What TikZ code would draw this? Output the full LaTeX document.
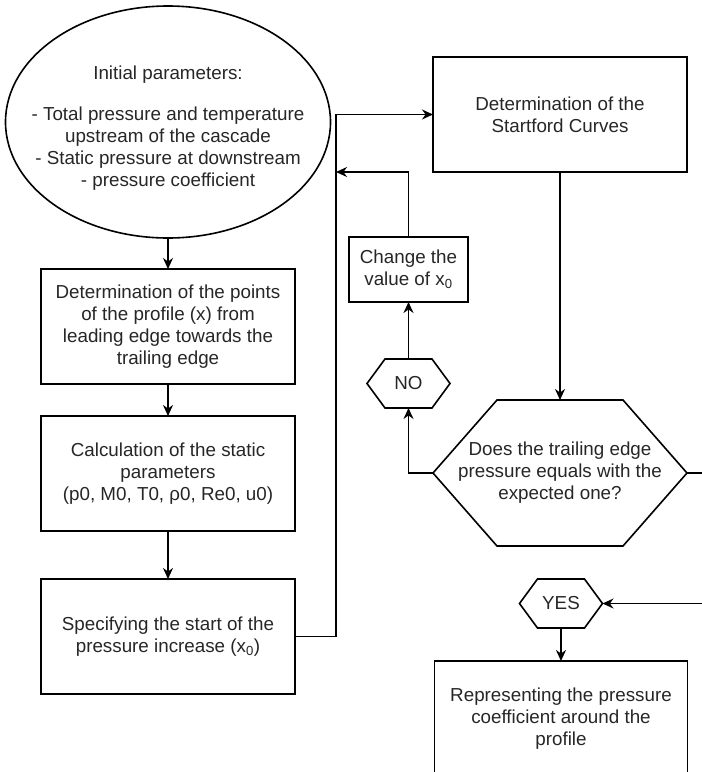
\documentclass[tikz,border=0pt]{standalone}
\usepackage{fontspec}
\setmainfont{Liberation Sans}
\usepackage{tikz}
\usetikzlibrary{shapes.geometric}
\usetikzlibrary{arrows.meta}

\tikzset{
  process/.style={draw, line width=1.6pt, rectangle, minimum width=254pt, minimum height=115pt, align=center, inner sep=0pt, outer sep=0pt},
  terminal/.style={draw, line width=1.6pt, ellipse, minimum width=325pt, minimum height=232pt, inner sep=0pt, outer sep=0pt},
  hexnode/.style={rectangle, align=center, inner sep=0pt, outer sep=0pt},
  flow/.style={line width=1.6pt, -{Stealth[length=11pt,width=10pt]}},
  link/.style={line width=1.6pt}
}

\begin{document}
\begin{tikzpicture}[x=1pt,y=-1pt,font=\fontsize{18.8}{22}\selectfont, text=black!85]
\useasboundingbox (0,0) rectangle (702,772);
\clip (0,0) rectangle (702,772);

\node[terminal] (init) at (168,122) {};
\node[align=center] (inittext) at (168,128) {Initial parameters:\\[19pt]
  - Total pressure and temperature\\ upstream of the cascade\\
  - Static pressure at downstream\\ - pressure coefficient};
\node[process] (points) at (168,326.5) {Determination of the points\\
  of the profile (x) from\\ leading edge towards the\\ trailing edge};
\node[process] (static) at (168,473.5) {Calculation of the static\\
  parameters\\ (p0, M0, T0, ρ0, Re0, u0)};
\node[process] (start) at (168,636.5) {Specifying the start of the\\
  pressure increase (x\textsubscript{0})};

\node[process] (curves) at (560,114.5) {Determination of the\\ Startford Curves};
\node[process, minimum width=119pt, minimum height=65pt] (change) at (408.5,269.5)
  {Change the\\ value of x\textsubscript{0}};

% decision and answers
\node[hexnode, minimum width=254pt, minimum height=146pt] (check) at (560,473)
  {Does the trailing edge\\ pressure equals with the\\ expected one?};
\draw[link] (check.west) -- ([xshift=64pt]check.north west) -- ([xshift=-64pt]check.north east)
  -- (check.east) -- ([xshift=-64pt]check.south east) -- ([xshift=64pt]check.south west) -- cycle;
\node[hexnode, minimum width=83pt, minimum height=49pt] (no) at (408.5,383.5) {NO};
\draw[link] (no.west) -- ([xshift=18pt]no.north west) -- ([xshift=-18pt]no.north east)
  -- (no.east) -- ([xshift=-18pt]no.south east) -- ([xshift=18pt]no.south west) -- cycle;
\node[hexnode, minimum width=83pt, minimum height=49pt] (yes) at (561,603.5) {YES};
\draw[link] (yes.west) -- ([xshift=18pt]yes.north west) -- ([xshift=-18pt]yes.north east)
  -- (yes.east) -- ([xshift=-18pt]yes.south east) -- ([xshift=18pt]yes.south west) -- cycle;

\node[process, minimum width=253pt] (plot) at (561,718.5) {Representing the pressure\\
  coefficient around the\\ profile};

\coordinate (loop) at (336,114.5);
\coordinate (back) at (336,172);
\coordinate (turn) at (730,473);

\draw[flow] (init.south) -- (points.north);
\draw[flow] (points) -- (static);
\draw[flow] (static) -- (start);
\draw[flow] (start.east) -| (loop) -- (curves.west);
\draw[flow] (curves) -- (check.north);
\draw[flow] (check.west) -| (no.south);
\draw[flow] (no.north) -- (change.south);
\draw[flow] (change.north) |- (back);
\draw[flow] (check.east) -- (turn) |- (yes.east);
\draw[flow] (yes.south) -- (plot.north);
\end{tikzpicture}
\end{document}
